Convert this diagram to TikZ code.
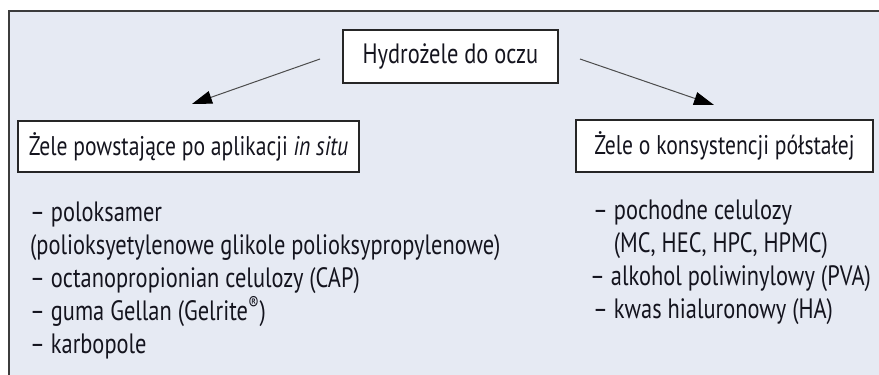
\documentclass[tikz,border=0pt]{standalone}
\usepackage{fontspec}
\setmainfont{PT Sans}[FakeStretch=0.8]
\usetikzlibrary{arrows.meta}
\definecolor{framebg}{HTML}{E6EAF3}
\definecolor{framerule}{HTML}{3C3C3C}
\definecolor{ink}{HTML}{14141E}

\begin{document}
\begin{tikzpicture}[x=1pt,y=-1pt,font=\fontsize{28}{33}\selectfont,text=ink]
	\useasboundingbox (0,0) rectangle (879,375);
	\clip (0,0) rectangle (879,375);
	\tikzstyle{frame}=[fill=framebg, draw=framerule, line width=1.5pt]
	\tikzstyle{box}=[rectangle, fill=white, draw=black!85, line width=1.3pt, inner sep=0pt]
	\tikzstyle{sub}=[box, font=\fontsize{27}{33}\selectfont]
	\tikzstyle{list}=[align=left, inner sep=0pt, anchor=base west]
	\draw[frame] (9,11) rectangle (900,400);

	\node[box, minimum width=215pt, minimum height=53pt] (H) at (450.5,56.5) {Hydrożele do oczu};
	\node[sub, minimum width=341pt, minimum height=51pt] (L) at (188.5,146.5) {Żele powstające po aplikacji \textit{in situ}};
	\node[sub, minimum width=297pt, minimum height=52pt] (R) at (724.5,146) {Żele o konsystencji półstałej};

	% base anchor of a multi-line node = last line
	\node[list] (LL) at (30,353) {– poloksamer\\(polioksyetylenowe glikole polioksypropylenowe)\\– octanopropionian celulozy (CAP)\\– guma Gellan (Gelrite\textsuperscript{®})\\– karbopole};
	\node[list] (RL) at (593,318) {– pochodne celulozy\\\hphantom{– }(MC, HEC, HPC, HPMC)\\\hspace*{-3pt}– alkohol poliwinylowy (PVA)\\– kwas hialuronowy (HA)};

	\coordinate (hl) at (320,59);
	\coordinate (hr) at (580,59);
	\coordinate (tl) at (192,104);
	\coordinate (tr) at (714,105);
	\begin{scope}[-{Triangle[length=20pt, width=13pt, color=black]}, line width=1pt, draw=black!70]
		\draw (hl) -- (tl);
		\draw (hr) -- (tr);
	\end{scope}
\end{tikzpicture}
\end{document}
